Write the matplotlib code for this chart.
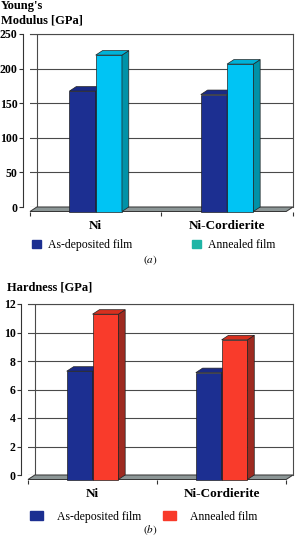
import matplotlib.pyplot as plt
from matplotlib.patches import Polygon, Patch

plt.rcParams['font.family'] = 'Liberation Serif'
plt.rcParams['mathtext.fontset'] = 'stix'

# data
materials = ['Ni', 'Ni-Cordierite']
series = ['As-deposited film', 'Annealed film']
modulus_dep = [174, 169]
modulus_ann = [226, 213]
hardness_dep = [7.6, 7.5]
hardness_ann = [11.6, 9.8]

DPI = 100
fig = plt.figure(figsize=(3.02, 5.36), dpi=DPI)

BAR_W = 0.2
DEPTH_PX = (7, 4.5)


def px_to_data(ax, px, py):
    bb = ax.get_position()
    w = bb.width * fig.get_figwidth() * DPI
    h = bb.height * fig.get_figheight() * DPI
    x0, x1 = ax.get_xlim()
    y0, y1 = ax.get_ylim()
    return px * (x1 - x0) / w, py * (y1 - y0) / h


def draw_panel(ax, dep, ann, ymax, step, xlim, faces):
    ax.set_xlim(*xlim)
    ax.set_ylim(0, ymax)
    ddx, ddy = px_to_data(ax, *DEPTH_PX)

    # back wall + grid
    ax.set_yticks(range(0, ymax + 1, step))
    ax.grid(axis='y', color='#4a4a4a', lw=0.8)
    ax.set_axisbelow(True)
    for s in ['top', 'right']:
        ax.spines[s].set_color('#4a4a4a')
        ax.spines[s].set_linewidth(0.8)
    ax.axvline(xlim[0], color='#4a4a4a', lw=0.8)
    ax.spines['left'].set_position(('outward', 5))
    ax.spines['left'].set_color('#333333')
    ax.spines['left'].set_linewidth(0.8)
    ax.spines['bottom'].set_position(('data', -ddy))
    ax.spines['bottom'].set_visible(False)
    ax.tick_params(axis='y', length=3, width=0.8, pad=1, labelsize=8.5, color='#333333')
    plt.setp(ax.get_yticklabels(), fontweight='bold')

    # floor
    floor = Polygon([(xlim[0], 0), (xlim[1], 0), (xlim[1] - ddx, -ddy), (xlim[0] - ddx, -ddy)],
                    closed=True, facecolor='#8c9696', edgecolor='#333333', lw=0.7,
                    clip_on=False, zorder=2)
    ax.add_patch(floor)

    # categories
    cats = list(range(len(materials)))
    ax.set_xticks([c - ddx for c in cats])
    ax.set_xticklabels(materials, fontweight='bold', fontsize=9.5)
    ax.set_xticks([b - ddx for b in (-0.5, 0.5, 1.5)], minor=True)
    ax.tick_params(axis='x', which='major', length=0, pad=6)
    ax.tick_params(axis='x', which='minor', length=3, width=0.8, color='#333333')

    # 3d-looking bars
    for j, (vals, (front, top, side)) in enumerate(zip([dep, ann], faces)):
        xs = [c + (j - 1) * BAR_W - ddx for c in cats]
        ax.bar(xs, vals, width=BAR_W, bottom=-ddy, align='edge', color=front,
               edgecolor='#222222', lw=0.5, zorder=3, clip_on=False)
        for xl, v in zip(xs, vals):
            xr = xl + BAR_W
            ax.add_patch(Polygon([(xr, -ddy), (xr + ddx, 0), (xr + ddx, v), (xr, v - ddy)],
                                 closed=True, facecolor=side, edgecolor='#222222',
                                 lw=0.5, zorder=3, clip_on=False))
            ax.add_patch(Polygon([(xl, v - ddy), (xl + ddx, v), (xr + ddx, v), (xr, v - ddy)],
                                 closed=True, facecolor=top, edgecolor='#222222',
                                 lw=0.5, zorder=3, clip_on=False))


blue = ('#1c2f91', '#1a2a85', '#14226e')

# (a) Young's modulus
ax1 = fig.add_axes([30 / 302, 1 - 207 / 536, 263 / 302, 173 / 536])
draw_panel(ax1, modulus_dep, modulus_ann, 250, 50, (-0.5, 1.45),
           [blue, ('#00c4f4', '#00b2d8', '#0092a8')])
fig.text(0.003, 1 - 26.5 / 536, "Young's\nModulus [GPa]", fontsize=9, fontweight='bold',
         ha='left', va='bottom', linespacing=1.3)
fig.legend([Patch(color='#1c2f91'), Patch(color='#1fb5a6')], series,
           loc='center left', bbox_to_anchor=(26 / 302, 1 - 245 / 536), ncol=2,
           frameon=False, fontsize=8.5, handlelength=0.8, handleheight=0.6,
           handletextpad=0.6, columnspacing=5.0, borderpad=0)
fig.text(150 / 302, 1 - 263 / 536, '$(a)$', fontsize=8, ha='center', va='baseline')

# (b) hardness
ax2 = fig.add_axes([28 / 302, 1 - 475 / 536, 265 / 302, 171 / 536])
draw_panel(ax2, hardness_dep, hardness_ann, 12, 2, (-0.5, 1.5),
           [blue, ('#f93b2b', '#d6301f', '#9e2a20')])
fig.text(7 / 302, 1 - 291 / 536, 'Hardness [GPa]', fontsize=9, fontweight='bold',
         ha='left', va='baseline')
fig.legend([Patch(color='#1c2f91'), Patch(color='#f83a2a')], series,
           loc='center left', bbox_to_anchor=(24 / 302, 1 - 517 / 536), ncol=2,
           frameon=False, fontsize=8.5, handlelength=1.1, handleheight=0.8,
           handletextpad=1.2, columnspacing=1.8, borderpad=0)
fig.text(150 / 302, 1 - 533 / 536, '$(b)$', fontsize=8, ha='center', va='baseline')

fig.savefig('out.png', dpi=DPI)
